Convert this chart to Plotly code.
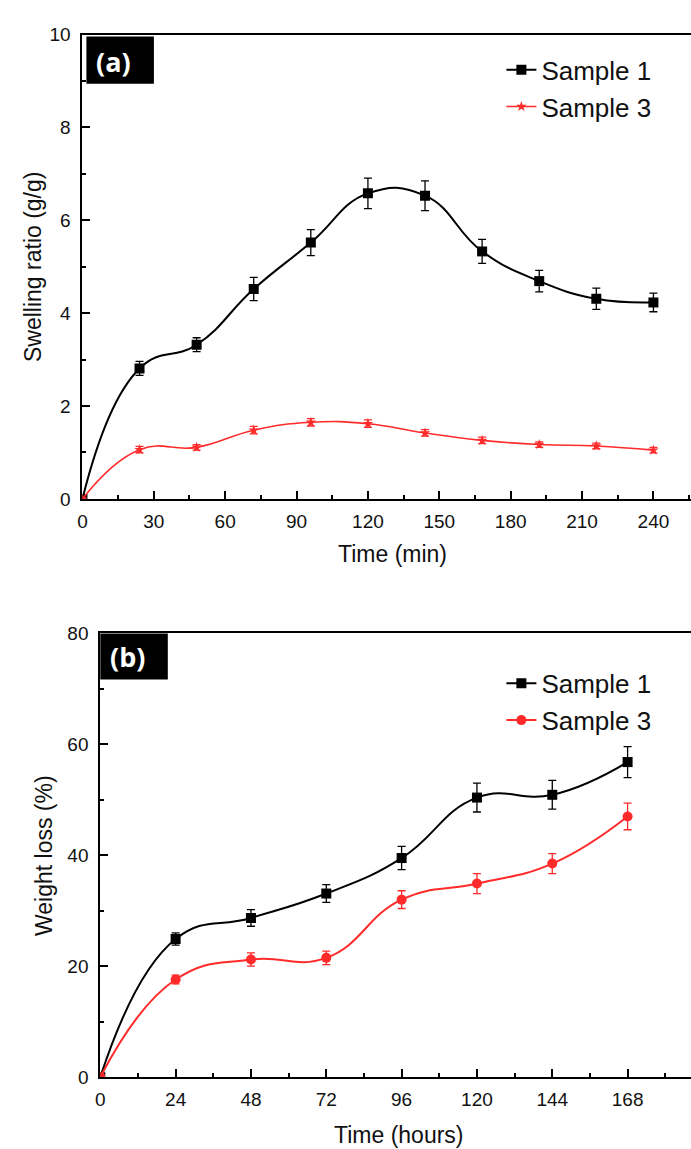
import plotly.graph_objects as go

W, H = 691, 1149

# ---------------- data (a) swelling ratio ----------------
time_a = [0, 24, 48, 72, 96, 120, 144, 168, 192, 216, 240]
swell_s1 = [0, 2.81, 3.32, 4.52, 5.52, 6.58, 6.53, 5.33, 4.69, 4.31, 4.23]
swell_s1_err = [0, 0.15, 0.15, 0.25, 0.28, 0.33, 0.32, 0.26, 0.23, 0.23, 0.20]
swell_s3 = [0, 1.06, 1.11, 1.48, 1.65, 1.62, 1.42, 1.26, 1.17, 1.14, 1.05]
swell_s3_err = [0, 0.07, 0.06, 0.08, 0.08, 0.08, 0.07, 0.07, 0.06, 0.06, 0.06]

# ---------------- data (b) weight loss ----------------
time_b = [0, 24, 48, 72, 96, 120, 144, 168]
wl_s1 = [0, 24.9, 28.7, 33.1, 39.5, 50.4, 50.9, 56.8]
wl_s1_err = [0, 1.1, 1.5, 1.6, 2.1, 2.6, 2.6, 2.8]
wl_s3 = [0, 17.6, 21.2, 21.5, 32.0, 34.9, 38.5, 47.0]
wl_s3_err = [0, 0.8, 1.2, 1.2, 1.6, 1.8, 1.8, 2.4]

names = ["Sample 1", "Sample 3"]
RED = "#ff2a2a"
FONT = "Liberation Sans, Arial, sans-serif"


def px_x(p):
    return p / W


def px_y(p):
    return 1 - p / H


fig = go.Figure()

# (a)
fig.add_trace(go.Scatter(
    x=time_a, y=swell_s1, name=names[0], mode="lines+markers",
    line=dict(color="black", width=2, shape="spline", smoothing=1.3),
    marker=dict(symbol="square", size=10, color="black"),
    error_y=dict(type="data", array=swell_s1_err, color="black", thickness=1.3, width=4),
    xaxis="x", yaxis="y", legend="legend"))
fig.add_trace(go.Scatter(
    x=time_a, y=swell_s3, name=names[1], mode="lines+markers",
    line=dict(color=RED, width=1.6, shape="spline", smoothing=1.3),
    marker=dict(symbol="star", size=8, color=RED),
    error_y=dict(type="data", array=swell_s3_err, color=RED, thickness=1.3, width=4),
    xaxis="x", yaxis="y", legend="legend"))

# (b)
fig.add_trace(go.Scatter(
    x=time_b, y=wl_s1, name=names[0], mode="lines+markers",
    line=dict(color="black", width=2, shape="spline", smoothing=1.3),
    marker=dict(symbol="square", size=10, color="black"),
    error_y=dict(type="data", array=wl_s1_err, color="black", thickness=1.3, width=4),
    xaxis="x2", yaxis="y2", legend="legend2"))
fig.add_trace(go.Scatter(
    x=time_b, y=wl_s3, name=names[1], mode="lines+markers",
    line=dict(color=RED, width=2, shape="spline", smoothing=1.3),
    marker=dict(symbol="circle", size=10, color=RED),
    error_y=dict(type="data", array=wl_s3_err, color=RED, thickness=1.3, width=4),
    xaxis="x2", yaxis="y2", legend="legend2"))

axis_common = dict(
    showline=True, linecolor="black", linewidth=2, showgrid=False, zeroline=False,
    ticks="inside", ticklen=8, tickwidth=1.5, tickcolor="black",
    tickfont=dict(family=FONT, size=19, color="#111"),
)

fig.update_layout(
    width=W, height=H, margin=dict(l=0, r=0, t=0, b=0),
    paper_bgcolor="white", plot_bgcolor="white",
    font=dict(family=FONT, color="#111"),
    xaxis=dict(**axis_common, domain=[px_x(78), 1], range=[0, 255.8], dtick=30,
               mirror=True, anchor="y", ticklabelstandoff=4,
               minor=dict(dtick=15, ticks="inside", ticklen=4, tickwidth=1.5, tickcolor="black")),
    yaxis=dict(**axis_common, domain=[px_y(498), px_y(25)], range=[0, 10], dtick=2,
               anchor="x", ticklabelstandoff=6,
               minor=dict(dtick=1, ticks="inside", ticklen=4, tickwidth=1.5, tickcolor="black")),
    xaxis2=dict(**axis_common, domain=[px_x(96), 1], range=[0, 188.2], dtick=24,
                mirror=True, anchor="y2", ticklabelstandoff=4,
                minor=dict(dtick=12, ticks="inside", ticklen=4, tickwidth=1.5, tickcolor="black")),
    yaxis2=dict(**axis_common, domain=[px_y(1087), px_y(635)], range=[0, 80], dtick=20,
                anchor="x2", ticklabelstandoff=6,
                minor=dict(dtick=10, ticks="inside", ticklen=4, tickwidth=1.5, tickcolor="black")),
    legend=dict(x=px_x(500), y=px_y(37), xanchor="left", yanchor="top",
                font=dict(family=FONT, size=26, color="#111"), bgcolor="rgba(0,0,0,0)",
                tracegroupgap=0, itemwidth=30),
    legend2=dict(x=px_x(500), y=px_y(662), xanchor="left", yanchor="top",
                 font=dict(family=FONT, size=26, color="#111"), bgcolor="rgba(0,0,0,0)",
                 tracegroupgap=0, itemwidth=30),
    showlegend=True,
)

# panel label boxes
fig.add_shape(type="rect", xref="paper", yref="paper",
              x0=px_x(82), x1=px_x(150), y0=px_y(75), y1=px_y(27),
              fillcolor="black", line=dict(width=0), layer="above")
fig.add_shape(type="rect", xref="paper", yref="paper",
              x0=px_x(96), x1=px_x(164), y0=px_y(682), y1=px_y(635),
              fillcolor="black", line=dict(width=0), layer="above")

ann = [
    dict(text="<b>(a)</b>", x=px_x(109), y=px_y(52), font=dict(family="Open Sans, sans-serif", size=27, color="white")),
    dict(text="<b>(b)</b>", x=px_x(123), y=px_y(659), font=dict(family="Open Sans, sans-serif", size=27, color="white")),
    dict(text="Time (min)", x=px_x(390), y=px_y(554), font=dict(family=FONT, size=23, color="#111")),
    dict(text="Time (hours)", x=px_x(397), y=px_y(1146), font=dict(family=FONT, size=23, color="#111")),
    dict(text="Swelling ratio (g/g)", x=px_x(28), y=px_y(262), textangle=-90, font=dict(family=FONT, size=23, color="#111")),
    dict(text="Weight loss (%)", x=px_x(40), y=px_y(861), textangle=-90, font=dict(family=FONT, size=23, color="#111")),
]
for a in ann:
    fig.add_annotation(xref="paper", yref="paper", showarrow=False,
                       xanchor="center", yanchor="middle", **a)

fig.write_html("out.html")
